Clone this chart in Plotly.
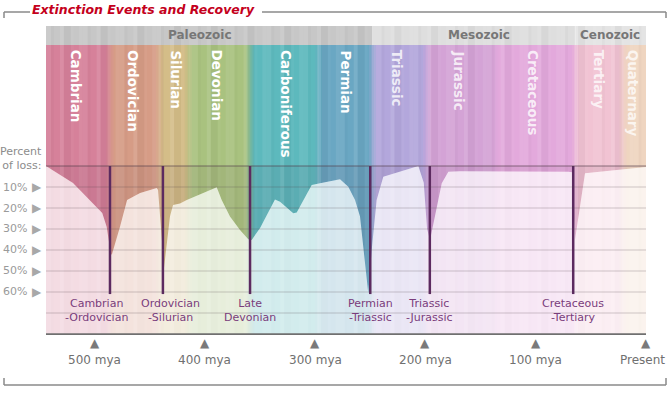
import plotly.graph_objects as go

# ---------------- data ----------------
period_names = ["Cambrian", "Ordovician", "Silurian", "Devonian", "Carboniferous", "Permian",
                "Triassic", "Jurassic", "Cretaceous", "Tertiary", "Quaternary"]
period_start = [544, 486, 441, 415, 359, 297, 248, 199, 137, 64, 21]
period_end = [486, 441, 415, 359, 297, 248, 199, 137, 64, 21, 0]
period_colors = ["#d6819a", "#d69c86", "#d4bd88", "#a9c27f", "#5db9bd", "#6aa7c3",
                 "#b3a7dc", "#d4a3d6", "#e3a9dc", "#f1c3d3", "#efd5c0"]
period_label_x = [516, 465, 426, 389, 326, 272, 225, 170, 102, 42, 11]
period_label_alpha = [1, 1, 1, 1, 1, 1, 0.8, 0.8, 0.8, 0.75, 0.75]

era_names = ["Paleozoic", "Mesozoic", "Cenozoic"]
era_start = [544, 248, 64]
era_end = [248, 64, 0]
era_colors = ["#c7c7c7", "#dedede", "#e4e4e4"]
era_label_x = [404, 151, 33]

# extinction curve (mya, percent of loss)
curve_mya = [544, 519.5, 493, 489, 485.3, 484.4, 476.9, 470.5, 458.7, 443.6, 442.4, 439.1, 437,
             431.6, 428.8, 422.5, 416.4, 389.2, 384.7, 377.2, 368.1, 360.6, 357.5, 349.9, 336.4,
             331.8, 319.8, 316.7, 303.1, 295.6, 277.4, 269.9, 263.8, 259.3, 256.3, 253.2, 251.8,
             248.7, 244.2, 238.2, 217, 206.4, 201.5, 198.5, 195.8, 191.3, 185.2, 179.2, 168.6,
             70.4, 67, 64.4, 55.3, 0]
curve_loss = [0, 8.1, 22.4, 28.9, 41.4, 42.4, 28.9, 16.2, 12.9, 10.5, 11.4, 31.9, 48.6,
              24.1, 18.6, 17.8, 16.2, 10.1, 16.2, 24.1, 30.5, 34.9, 35.2, 29.5, 15.9,
              17, 22.5, 22.2, 9, 8.2, 6.3, 9.9, 16.2, 24.1, 38.4, 55.9, 60.6,
              40, 16.2, 5.1, 1.9, 0, 8, 30, 35.2, 24.1, 8.2, 2.7, 2.5,
              2.7, 3, 35.2, 3.5, 0.5]

event_mya = [486, 438, 359, 250, 196, 66]
event_depth = [61, 61, 61, 61, 61, 61]
event_labels = ["Cambrian<br>-Ordovician", "Ordovician<br>-Silurian", "Late<br>Devonian",
                "Permian<br>-Triassic", "Triassic<br>-Jurassic", "Cretaceous<br>-Tertiary"]
event_label_x = [498, 431, 359, 250, 196, 66]

loss_ticks = [10, 20, 30, 40, 50, 60]
loss_tick_text = ["10%", "20%", "30%", "40%", "50%", "60%"]
grid_levels = [0, 10, 20, 30, 40, 50, 60, 70]

time_ticks = [500, 400, 300, 200, 100, 0]
time_tick_text = ["500 mya", "400 mya", "300 mya", "200 mya", "100 mya", "Present"]

title_text = "Extinction Events and Recovery"

# subtle vertical texture of the colour bands (cyclic pattern, width in My, overlay colour)
stripe_widths = [4.5, 2.7, 5.4, 3.6, 6.3, 2.7, 4.5, 3.6]
stripe_colors = ["rgba(255,255,255,0.07)", "rgba(0,0,0,0.02)", "rgba(255,255,255,0.0)",
                 "rgba(255,255,255,0.10)", "rgba(0,0,0,0.03)", "rgba(255,255,255,0.04)",
                 "rgba(0,0,0,0.0)", "rgba(255,255,255,0.08)"]

# ---------------- layout constants ----------------
X_LEFT, X_RIGHT = 544, 0
Y_TOP, Y_BOTTOM = -66.7, 80.5
HEADER_BOTTOM = -57.6
FONT = "DejaVu Sans"

fig = go.Figure()
shapes = []
annotations = []

# period colour bands
for s, e, c in zip(period_start, period_end, period_colors):
    shapes.append(dict(type="rect", xref="x", yref="y", x0=s, x1=e, y0=HEADER_BOTTOM, y1=Y_BOTTOM,
                       fillcolor=c, line=dict(width=0), layer="below"))


def mix(a, b, t):
    a = [int(a[i:i + 2], 16) for i in (1, 3, 5)]
    b = [int(b[i:i + 2], 16) for i in (1, 3, 5)]
    return "#%02x%02x%02x" % tuple(round(a[k] * (1 - t) + b[k] * t) for k in range(3))


# soft blending between neighbouring periods
for i in range(len(period_names) - 1):
    b = period_end[i]
    ca, cb = period_colors[i], period_colors[i + 1]
    steps = 4
    w = 1.6
    for k in range(steps):
        t = (k + 1) / (steps + 1)
        x0 = b + (steps / 2 - k) * w
        shapes.append(dict(type="rect", xref="x", yref="y", x0=x0, x1=x0 - w,
                           y0=HEADER_BOTTOM, y1=Y_BOTTOM, fillcolor=mix(ca, cb, t),
                           line=dict(width=0), layer="below"))

# era header
for s, e, c in zip(era_start, era_end, era_colors):
    shapes.append(dict(type="rect", xref="x", yref="y", x0=s, x1=e, y0=Y_TOP, y1=HEADER_BOTTOM,
                       fillcolor=c, line=dict(width=0), layer="below"))

# vertical texture stripes
pos = X_LEFT
k = 0
while pos > X_RIGHT:
    w = stripe_widths[k % len(stripe_widths)]
    shapes.append(dict(type="rect", xref="x", yref="y", x0=pos, x1=max(pos - w, X_RIGHT),
                       y0=Y_TOP, y1=Y_BOTTOM, fillcolor=stripe_colors[k % len(stripe_colors)],
                       line=dict(width=0), layer="below"))
    pos -= w
    k += 1

for name, x in zip(era_names, era_label_x):
    annotations.append(dict(x=x, y=(Y_TOP + HEADER_BOTTOM) / 2 - 0.5, xref="x", yref="y",
                            text="<b>%s</b>" % name, showarrow=False,
                            font=dict(family=FONT, size=12, color="#777777")))

# darker zone between 0% line and the curve
fig.add_trace(go.Scatter(x=[X_LEFT] + curve_mya + [X_RIGHT], y=[0] + curve_loss + [0],
                         fill="toself", fillcolor="rgba(70,30,50,0.07)", mode="lines",
                         line=dict(width=0), hoverinfo="skip", showlegend=False))
# pale recovery zone below the curve
fig.add_trace(go.Scatter(x=curve_mya + [X_RIGHT, X_LEFT], y=curve_loss + [Y_BOTTOM, Y_BOTTOM],
                         fill="toself", fillcolor="rgba(255,255,255,0.72)", mode="lines",
                         line=dict(width=0), hoverinfo="skip", showlegend=False))

# grid lines
for g in grid_levels:
    shapes.append(dict(type="line", xref="x", yref="y", x0=X_LEFT, x1=X_RIGHT, y0=g, y1=g,
                       line=dict(color="rgba(80,60,70,%s)" % (0.32 if g == 0 else 0.13), width=2),
                       layer="above"))

# extinction event lines
for m, d in zip(event_mya, event_depth):
    fig.add_trace(go.Scatter(x=[m, m], y=[0, d], mode="lines",
                             line=dict(color="#5c2a60", width=2.5),
                             hoverinfo="skip", showlegend=False))
for t, x in zip(event_labels, event_label_x):
    annotations.append(dict(x=x, y=68.8, xref="x", yref="y", text=t, showarrow=False,
                            font=dict(family=FONT, size=11, color="#7a3d7c")))

# period names (vertical)
for name, x, a in zip(period_names, period_label_x, period_label_alpha):
    annotations.append(dict(x=x, y=-56.2, xref="x", yref="y", text="<b>%s</b>" % name,
                            textangle=90, xanchor="center", yanchor="top", showarrow=False,
                            font=dict(family=FONT, size=13.5, color="rgba(255,255,255,%s)" % a)))

# bottom axis line
shapes.append(dict(type="line", xref="x", yref="y", x0=X_LEFT, x1=X_RIGHT, y0=Y_BOTTOM - 0.3,
                   y1=Y_BOTTOM - 0.3, line=dict(color="#707070", width=2), layer="above"))

# percent-of-loss labels (left)
annotations.append(dict(x=-0.004, y=-3.5, xref="paper", yref="y", text="Percent<br>of loss:",
                        showarrow=False, xanchor="right", align="right",
                        font=dict(family=FONT, size=11, color="#8c8c8c")))
for v, t in zip(loss_ticks, loss_tick_text):
    annotations.append(dict(x=-0.028, y=v, xref="paper", yref="y", text=t, showarrow=False,
                            xanchor="right", font=dict(family=FONT, size=11, color="#9a9a9a")))
    annotations.append(dict(x=-0.004, y=v, xref="paper", yref="y", text="\u25B6", showarrow=False,
                            xanchor="right", font=dict(family=FONT, size=12, color="#a8a8a8")))

# time labels (bottom)
for v, t in zip(time_ticks, time_tick_text):
    annotations.append(dict(x=v, y=-0.027, xref="x", yref="paper", text="\u25B2", showarrow=False,
                            xanchor="center", yanchor="middle",
                            font=dict(family=FONT, size=12, color="#7a7a7a")))
    annotations.append(dict(x=v, y=-0.081, xref="x", yref="paper", text=t, showarrow=False,
                            xanchor="center", yanchor="middle", xshift=-4 if v == 0 else 0,
                            font=dict(family=FONT, size=12, color="#707070")))

# title and bracket frame
annotations.append(dict(x=0.163, y=1.053, xref="paper", yref="paper",
                        text="<b><i>%s</i></b>" % title_text, xanchor="center", yanchor="middle",
                        showarrow=False, font=dict(family=FONT, size=12.5, color="#c4001c")))
bracket = dict(color="#8a8a8a", width=1.5)


def px_x(p):
    return (p - 46) / 600.0


def px_y(p):
    return (335 - p) / 309.0


shapes += [
    dict(type="line", xref="paper", yref="paper", x0=px_x(4), x1=px_x(30), y0=px_y(12), y1=px_y(12), line=bracket),
    dict(type="line", xref="paper", yref="paper", x0=px_x(262), x1=px_x(666), y0=px_y(12), y1=px_y(12), line=bracket),
    dict(type="line", xref="paper", yref="paper", x0=px_x(4), x1=px_x(4), y0=px_y(12), y1=px_y(18), line=bracket),
    dict(type="line", xref="paper", yref="paper", x0=px_x(666), x1=px_x(666), y0=px_y(12), y1=px_y(18), line=bracket),
    dict(type="line", xref="paper", yref="paper", x0=px_x(4), x1=px_x(666), y0=px_y(385), y1=px_y(385), line=bracket),
    dict(type="line", xref="paper", yref="paper", x0=px_x(4), x1=px_x(4), y0=px_y(385), y1=px_y(378), line=bracket),
    dict(type="line", xref="paper", yref="paper", x0=px_x(666), x1=px_x(666), y0=px_y(385), y1=px_y(378), line=bracket),
]

fig.update_layout(
    width=670, height=397,
    margin=dict(l=46, r=24, t=26, b=62),
    paper_bgcolor="white", plot_bgcolor="white",
    xaxis=dict(range=[X_LEFT, X_RIGHT], visible=False, fixedrange=True),
    yaxis=dict(range=[Y_BOTTOM, Y_TOP], visible=False, fixedrange=True),
    shapes=shapes, annotations=annotations, showlegend=False,
)

fig.write_html("out.html", config={"displayModeBar": False},
               post_script="document.body.style.margin='0';document.body.style.overflow='hidden';")
